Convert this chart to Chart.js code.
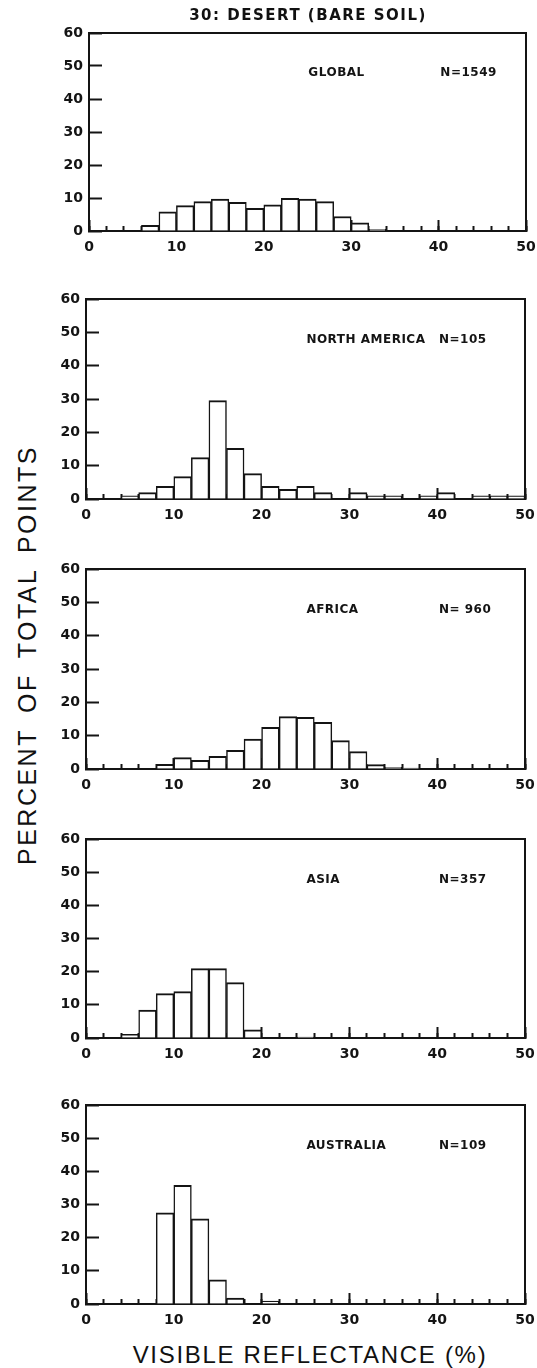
<!DOCTYPE html>
<html>
<head>
<meta charset="utf-8">
<script src="https://cdn.jsdelivr.net/npm/chart.js@4.4.1/dist/chart.umd.min.js"></script>
<style>
  body { margin: 0; background: #fff; width: 537px; height: 1368px; position: relative; overflow: hidden; font-family: "DejaVu Sans", sans-serif; color: #111; }
  canvas { position: absolute; left: 0; }
  .title { position: absolute; left: 308px; top: 15px; transform: translate(-50%, -50%); white-space: nowrap;
           font: bold 15px "DejaVu Sans", sans-serif; letter-spacing: 1.5px; z-index: 2; }
  .ytitle { position: absolute; left: 27px; top: 655px; transform: translate(-50%, -50%) rotate(-90deg); white-space: nowrap;
            font: 25px "Liberation Sans", sans-serif; letter-spacing: 2.5px; word-spacing: 6px; }
  .xtitle { position: absolute; left: 310px; top: 1355px; transform: translate(-50%, -50%); white-space: nowrap;
            font: 24px "Liberation Sans", sans-serif; letter-spacing: 1.7px; }
</style>
</head>
<body>
<div class="title">30: DESERT (BARE SOIL)</div>
<div class="ytitle">PERCENT OF TOTAL POINTS</div>
<div class="xtitle">VISIBLE REFLECTANCE (%)</div>

<script>
// bins are 2 % wide, from 0 to 50
const binStart = [0, 2, 4, 6, 8, 10, 12, 14, 16, 18, 20, 22, 24, 26, 28, 30, 32, 34, 36, 38, 40, 42, 44, 46, 48];

const globalPct    = [0, 0, 0, 1.7, 5.8, 7.7, 8.9, 9.7, 8.7, 6.9, 7.9, 9.9, 9.7, 8.9, 4.4, 2.5, 0.5, 0, 0, 0, 0, 0, 0, 0, 0];
const northAmerica = [0, 0, 0.95, 1.9, 3.8, 6.7, 12.4, 29.5, 15.2, 7.6, 3.8, 2.9, 3.8, 1.9, 0, 1.9, 0.95, 0.95, 0, 0.95, 1.9, 0, 0.95, 0.95, 0.95];
const africa       = [0, 0, 0, 0, 1.4, 3.4, 2.6, 3.8, 5.6, 9.0, 12.5, 15.7, 15.5, 14.0, 8.5, 5.2, 1.3, 0.5, 0.3, 0, 0, 0, 0, 0, 0];
const asia         = [0, 0, 1.1, 8.4, 13.4, 14.0, 20.9, 20.9, 16.7, 2.5, 0, 0, 0.3, 0, 0, 0, 0, 0, 0, 0, 0, 0, 0, 0, 0];
const australia    = [0, 0, 0, 0, 27.5, 35.8, 25.7, 7.3, 1.8, 0, 0.9, 0, 0, 0, 0, 0, 0, 0, 0, 0, 0, 0, 0, 0, 0];

const regionNames = ['GLOBAL', 'NORTH AMERICA', 'AFRICA', 'ASIA', 'AUSTRALIA'];
const regionCounts = ['N=1549', 'N=105', 'N= 960', 'N=357', 'N=109'];
const series = [globalPct, northAmerica, africa, asia, australia];

const xTicks = [0, 10, 20, 30, 40, 50];
const yTicks = [0, 10, 20, 30, 40, 50, 60];

// plot frame of each panel: left, top, right, bottom (page pixels)
const frames = [
  [89, 33, 526, 231],
  [86, 299, 525, 499],
  [86, 569, 525, 769],
  [86, 839, 525, 1038],
  [86, 1105, 525, 1304]
];

const ink = '#141414';
const W = 537, H = 268, TOP_GAP = 28, Y_AXIS_W = 50, X_AXIS_H = 30;
const tickFont = { family: '"DejaVu Sans", sans-serif', size: 14, weight: 'bold' };

const panelText = {
  id: 'panelText',
  afterDraw(chart, args, opts) {
    const { ctx, scales: { x, y } } = chart;
    ctx.save();
    ctx.font = 'bold 12px "DejaVu Sans", sans-serif';
    ctx.letterSpacing = '0.5px';
    ctx.fillStyle = ink;
    ctx.textBaseline = 'middle';
    const ty = y.getPixelForValue(47.8);
    ctx.fillText(opts.name, x.getPixelForValue(25.1), ty);
    ctx.fillText(opts.n, x.getPixelForValue(40.2), ty);
    ctx.restore();
  }
};

// keep the library from reserving extra room for overhanging labels
function noPad(s) {
  s.paddingLeft = 0;
  s.paddingRight = 0;
  s.paddingTop = 0;
  s.paddingBottom = 0;
}

function makePanel(i) {
  const [l, t, r, b] = frames[i];
  const canvas = document.createElement('canvas');
  canvas.width = W;
  canvas.height = H;
  canvas.style.top = (t - TOP_GAP) + 'px';
  document.body.appendChild(canvas);

  const plotH = b - t;
  return new Chart(canvas.getContext('2d'), {
    type: 'bar',
    data: {
      datasets: [{
        data: binStart.map((s, k) => ({ x: s + 1, y: series[i][k] })),
        backgroundColor: '#fff',
        borderColor: ink,
        borderWidth: { top: 2, left: 1.5, right: 1.5, bottom: 0 },
        borderSkipped: 'bottom',
        barPercentage: 1,
        categoryPercentage: 1,
        xAxisID: 'x'
      }]
    },
    options: {
      responsive: false,
      devicePixelRatio: 1,
      animation: false,
      layout: {
        padding: { left: l - Y_AXIS_W, right: W - r, top: TOP_GAP, bottom: H - TOP_GAP - plotH - X_AXIS_H }
      },
      plugins: {
        legend: { display: false },
        tooltip: { enabled: false },
        panelText: { name: regionNames[i], n: regionCounts[i] }
      },
      scales: {
        x: {
          type: 'linear', position: 'bottom', weight: 1,
          min: xTicks[0], max: xTicks[xTicks.length - 1], offset: false,
          afterBuildTicks: s => { s.ticks = xTicks.map(v => ({ value: v })); },
          ticks: { color: ink, font: tickFont, padding: 19, maxRotation: 0, autoSkip: false },
          grid: { drawOnChartArea: false, tickLength: -11, tickWidth: 2, tickColor: ink, offset: false },
          border: { display: true, width: 2, color: ink },
          afterFit: s => { s.height = X_AXIS_H; noPad(s); }
        },
        xMinor: {
          type: 'linear', position: 'bottom', weight: 0,
          min: 0, max: 50, offset: false,
          afterBuildTicks: s => { s.ticks = binStart.concat([50]).map(v => ({ value: v })); },
          ticks: { display: false },
          grid: { drawOnChartArea: false, tickLength: -5, tickWidth: 2, tickColor: ink, offset: false },
          border: { display: false },
          afterFit: s => { s.height = 0; noPad(s); }
        },
        xTop: {
          type: 'linear', position: 'top', min: 0, max: 50,
          ticks: { display: false },
          grid: { drawOnChartArea: false, drawTicks: false },
          border: { display: true, width: 2, color: ink },
          afterFit: s => { s.height = 0; noPad(s); }
        },
        y: {
          type: 'linear', position: 'left',
          min: yTicks[0], max: yTicks[yTicks.length - 1],
          afterBuildTicks: s => { s.ticks = yTicks.map(v => ({ value: v })); },
          ticks: { color: ink, font: tickFont, padding: 19 },
          grid: { drawOnChartArea: false, tickLength: -13, tickWidth: 2, tickColor: ink },
          border: { display: true, width: 2, color: ink },
          afterFit: s => { s.width = Y_AXIS_W; noPad(s); }
        },
        yRight: {
          type: 'linear', position: 'right', min: 0, max: 60,
          ticks: { display: false },
          grid: { drawOnChartArea: false, drawTicks: false },
          border: { display: true, width: 2, color: ink },
          afterFit: s => { s.width = 0; noPad(s); }
        }
      }
    },
    plugins: [panelText]
  });
}

const charts = frames.map((f, i) => makePanel(i));
</script>
</body>
</html>
